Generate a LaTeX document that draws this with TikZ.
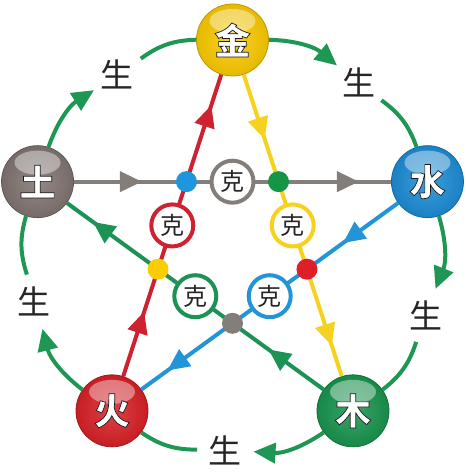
\documentclass[tikz,border=0pt]{standalone}
\usepackage{fontspec}
\newfontfamily\cjk{Noto Sans CJK SC}
\usetikzlibrary{arrows.meta,decorations.markings}

\definecolor{metalc}{RGB}{250,202,0}
\definecolor{earthc}{RGB}{128,116,112}
\definecolor{waterc}{RGB}{28,140,212}
\definecolor{firec}{RGB}{216,32,38}
\definecolor{woodc}{RGB}{24,148,78}
\definecolor{arcc}{RGB}{30,150,84}
\definecolor{grayln}{RGB}{132,126,123}
\definecolor{blueln}{RGB}{35,148,215}
\definecolor{redln}{RGB}{206,34,48}
\definecolor{yellowln}{RGB}{246,210,30}
\definecolor{greenln}{RGB}{28,146,84}
\definecolor{bluedot}{RGB}{30,150,222}
\definecolor{greendot}{RGB}{20,150,70}
\definecolor{reddot}{RGB}{222,30,40}
\definecolor{yellowdot}{RGB}{250,205,0}

\newcommand\outlined[1]{\special{pdf:code q 2 Tr 0.7 w 0.1 0.1 0.1 RG}#1\special{pdf:code Q}}

\tikzset{
  element/.style={circle, minimum size=72pt, inner sep=0pt,
    shading=radial, inner color=#1!85!white, outer color=#1!92!black,
    draw=#1!75!black, line width=0.8pt,
    path picture={\fill[white, opacity=0.4] ([yshift=19pt]path picture bounding box.center) ellipse (23pt and 12pt);},
    text=white, font=\cjk\bfseries\fontsize{36}{36}\selectfont},
  sheng/.style={circle, minimum size=56pt, inner sep=0pt, text=black!85,
    font=\cjk\fontsize{33}{33}\selectfont},
  kebox/.style={circle, draw=#1, line width=4pt, fill=white, minimum size=42pt,
    inner sep=0pt, text=black!85, font=\cjk\fontsize{24}{24}\selectfont},
  jdot/.style={circle, fill=#1, minimum size=21pt, inner sep=0pt},
  genarc/.style={draw=arcc, line width=4pt},
  gentip/.style={-{Triangle[length=22pt,width=20pt]}},
  keline/.style={draw=#1, line width=4pt, postaction={decorate},
    decoration={markings,
      mark=at position 68pt with {\arrow[color=#1]{Triangle[length=22pt,width=20pt]}},
      mark=at position 285pt with {\arrow[color=#1]{Triangle[length=22pt,width=20pt]}}}},
}

\begin{document}
\begin{tikzpicture}[x=1pt, y=1pt]
  \useasboundingbox (-232.5,-228) rectangle (232.5,245);

  \node[element=metalc] (metal) at (90:205) {\outlined{金}};
  \node[element=waterc] (water) at (18:205) {\outlined{水}};
  \node[element=woodc]  (wood)  at (-54:205) {\outlined{木}};
  \node[element=firec]  (fire)  at (-126:205) {\outlined{火}};
  \node[element=earthc] (earth) at (162:205) {\outlined{土}};

  \node[sheng] (g1) at (124:206) {生};
  \node[sheng] (g2) at (52:206) {生};
  \node[sheng] (g3) at (-20:206) {生};
  \node[sheng] (g4) at (-92:206) {生};
  \node[sheng] (g5) at (196:206) {生};

  \foreach \a/\g/\b in {earth/g1/metal, metal/g2/water, water/g3/wood, wood/g4/fire, fire/g5/earth} {
    \draw[genarc, gentip] (\a) to[bend left=19] (\g);
    \draw[genarc] (\g) to[bend left=17] (\b);
  }

  \draw[keline=grayln]   (earth) -- (water);
  \draw[keline=blueln]   (water) -- (fire);
  \draw[keline=redln]    (fire)  -- (metal);
  \draw[keline=yellowln] (metal) -- (wood);
  \draw[keline=greenln]  (wood)  -- (earth);

  \node[jdot=bluedot]   (d1) at (126:78.3) {};
  \node[jdot=greendot]  (d2) at (54:78.3) {};
  \node[jdot=reddot]    (d3) at (-18:78.3) {};
  \node[jdot=grayln]    (d4) at (-90:78.3) {};
  \node[jdot=yellowdot] (d5) at (198:78.3) {};

  \node[kebox=grayln]   (k1) at (90:63.3) {克};
  \node[kebox=yellowln] (k2) at (18:63.3) {克};
  \node[kebox=blueln]   (k3) at (-54:63.3) {克};
  \node[kebox=greenln]  (k4) at (-126:63.3) {克};
  \node[kebox=redln]    (k5) at (162:63.3) {克};
\end{tikzpicture}
\end{document}
